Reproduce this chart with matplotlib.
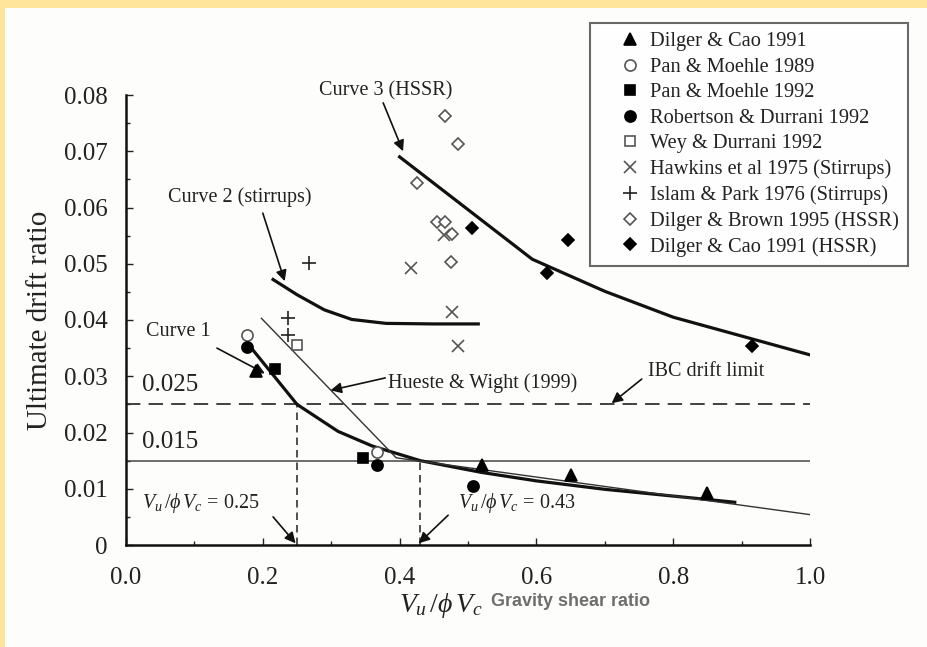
import matplotlib.pyplot as plt
from matplotlib.patches import Rectangle
from matplotlib.ticker import MultipleLocator, FuncFormatter

plt.rcParams['font.family'] = ['Liberation Serif', 'DejaVu Serif']
plt.rcParams['mathtext.fontset'] = 'custom'
plt.rcParams['mathtext.rm'] = 'Liberation Serif'
plt.rcParams['mathtext.it'] = 'Liberation Serif:italic'

# test results: gravity shear ratio vs ultimate drift ratio
dilger_cao_x = [0.19, 0.52, 0.65, 0.85]
dilger_cao_y = [0.031, 0.0143, 0.0124, 0.0092]
pan89_x = [0.177, 0.367]
pan89_y = [0.0373, 0.0165]
pan92_x = [0.218, 0.347]
pan92_y = [0.0313, 0.0155]
robertson_x = [0.177, 0.367, 0.507]
robertson_y = [0.0352, 0.0142, 0.0105]
wey_x = [0.25]
wey_y = [0.0356]
hawkins_x = [0.417, 0.465, 0.476, 0.485]
hawkins_y = [0.0492, 0.0551, 0.0414, 0.0354]
islam_x = [0.237, 0.237, 0.268]
islam_y = [0.0403, 0.0373, 0.0501]
brown_x = [0.466, 0.486, 0.426, 0.455, 0.466, 0.476, 0.475]
brown_y = [0.0763, 0.0713, 0.0643, 0.0574, 0.0574, 0.0553, 0.0503]
cao_hssr_x = [0.506, 0.646, 0.615, 0.915]
cao_hssr_y = [0.0563, 0.0542, 0.0483, 0.0354]

# design curves
curve1_x = [0.18, 0.21, 0.25, 0.31, 0.36, 0.43, 0.52, 0.60, 0.70, 0.80, 0.89]
curve1_y = [0.0355, 0.031, 0.025, 0.0202, 0.0176, 0.015, 0.0129, 0.0114, 0.0099, 0.0087, 0.0076]
curve2_x = [0.215, 0.25, 0.29, 0.33, 0.38, 0.45, 0.515]
curve2_y = [0.0472, 0.0445, 0.0418, 0.0401, 0.0394, 0.0393, 0.0393]
curve3_x = [0.40, 0.594, 0.70, 0.80, 1.0]
curve3_y = [0.069, 0.0508, 0.0451, 0.0405, 0.0338]
hueste_x = [0.198, 0.395, 1.0]
hueste_y = [0.0403, 0.0155, 0.0054]

ibc_limit = 0.025
low_limit = 0.015
ratio_a = 0.25
ratio_b = 0.43

fig = plt.figure(figsize=(9.28, 6.47), dpi=100, facecolor='#ffe49c')
fig.patches.append(Rectangle((5 / 928, 0), 1, 1 - 8 / 647, transform=fig.transFigure,
                             facecolor='#fdfefb', edgecolor='none', zorder=-10))
ax = fig.add_axes([126 / 928, 1 - 545 / 647, 684 / 928, 450 / 647])
ax.set_facecolor('none')

grey = '#555555'
series = [
    ('Dilger & Cao 1991', dilger_cao_x, dilger_cao_y, '^', 'k', 'k', 8),
    ('Pan & Moehle 1989', pan89_x, pan89_y, 'o', 'white', grey, 8),
    ('Pan & Moehle 1992', pan92_x, pan92_y, 's', 'k', 'k', 7.5),
    ('Robertson & Durrani 1992', robertson_x, robertson_y, 'o', 'k', 'k', 8),
    ('Wey & Durrani 1992', wey_x, wey_y, 's', 'white', grey, 7.5),
    ('Hawkins et al 1975 (Stirrups)', hawkins_x, hawkins_y, 'x', grey, grey, 9),
    ('Islam & Park 1976 (Stirrups)', islam_x, islam_y, '+', 'k', '#222222', 10),
    ('Dilger & Brown 1995 (HSSR)', brown_x, brown_y, 'D', 'white', grey, 6.5),
    ('Dilger & Cao 1991 (HSSR)', cao_hssr_x, cao_hssr_y, 'D', 'k', 'k', 6.5),
]

ax.plot(curve1_x, curve1_y, color='#111111', lw=2.3, zorder=3)
ax.plot(curve2_x, curve2_y, color='#111111', lw=2.3, zorder=3)
ax.plot(curve3_x, curve3_y, color='#111111', lw=2.3, zorder=3)
ax.plot(hueste_x, hueste_y, color='#333333', lw=1.0, zorder=3)
ax.plot([0, 1], [ibc_limit, ibc_limit], color='#333333', lw=1.3, linestyle=(0, (8, 4.5)))
ax.plot([0, 1], [low_limit, low_limit], color='#444444', lw=1.1)
ax.plot([ratio_a, ratio_a], [0, ibc_limit], color='#333333', lw=1.2, linestyle=(0, (4.5, 3)))
ax.plot([ratio_b, ratio_b], [0, low_limit], color='#333333', lw=1.2, linestyle=(0, (4.5, 3)))

handles = []
for label, xs, ys, m, fc, ec, ms in series:
    h, = ax.plot(xs, ys, linestyle='none', marker=m, markersize=ms, markerfacecolor=fc,
                 markeredgecolor=ec, markeredgewidth=1.2, label=label, zorder=4)
    handles.append(h)

arrow = dict(arrowstyle='-|>', color='#111111', lw=1.2, mutation_scale=16, shrinkA=0, shrinkB=0)
fs = 14.5
ax.text(0.379, 0.0808, 'Curve 3 (HSSR)', fontsize=fs, ha='center', va='center', color='#222222')
ax.annotate('', xy=(0.405, 0.0700), xytext=(0.376, 0.0786), arrowprops=arrow)
ax.text(0.167, 0.0619, 'Curve 2 (stirrups)', fontsize=fs, ha='center', va='center', color='#222222')
ax.annotate('', xy=(0.232, 0.0469), xytext=(0.200, 0.0590), arrowprops=arrow)
ax.text(0.076, 0.0380, 'Curve 1', fontsize=fs, ha='center', va='center', color='#222222')
ax.annotate('', xy=(0.203, 0.0305), xytext=(0.133, 0.0350), arrowprops=arrow)
ax.text(0.383, 0.0288, 'Hueste & Wight (1999)', fontsize=fs, ha='left', va='center', color='#222222')
ax.annotate('', xy=(0.299, 0.0275), xytext=(0.379, 0.0297), arrowprops=arrow)
ax.text(0.848, 0.0308, 'IBC drift limit', fontsize=fs, ha='center', va='center', color='#222222')
ax.annotate('', xy=(0.710, 0.0252), xytext=(0.754, 0.0295), arrowprops=arrow)
ax.text(0.023, 0.0284, '0.025', fontsize=18, ha='left', va='center', color='#222222')
ax.text(0.023, 0.0183, '0.015', fontsize=18, ha='left', va='center', color='#222222')
ax.text(0.023, 0.0075, r'$V_u\,/\phi\,V_c$ = 0.25', fontsize=fs, ha='left', va='center', color='#222222')
ax.annotate('', xy=(0.248, 0.0003), xytext=(0.215, 0.0050), arrowprops=arrow)
ax.text(0.486, 0.0075, r'$V_u\,/\phi\,V_c$ = 0.43', fontsize=fs, ha='left', va='center', color='#222222')
ax.annotate('', xy=(0.428, 0.0003), xytext=(0.471, 0.0053), arrowprops=arrow)

ax.set_xlim(0, 1.0)
ax.set_ylim(0, 0.08)
ax.xaxis.set_major_locator(MultipleLocator(0.2))
ax.xaxis.set_minor_locator(MultipleLocator(0.1))
ax.yaxis.set_major_locator(MultipleLocator(0.01))
ax.yaxis.set_minor_locator(MultipleLocator(0.005))
ax.xaxis.set_major_formatter(FuncFormatter(lambda v, p: '%.1f' % v))
ax.yaxis.set_major_formatter(FuncFormatter(lambda v, p: '0' if abs(v) < 1e-9 else '%.2f' % v))
ax.tick_params(which='both', direction='in', labelsize=18, colors='#222222', width=1)
ax.tick_params(which='major', length=5)
ax.tick_params(which='minor', length=3)
ax.tick_params(axis='x', which='major', pad=16)
ax.tick_params(axis='y', which='major', pad=13)
for s in ['top', 'right']:
    ax.spines[s].set_visible(False)
for s in ['left', 'bottom']:
    ax.spines[s].set_linewidth(1.8)
    ax.spines[s].set_color('#111111')

ax.set_ylabel('Ultimate drift ratio', fontsize=21, color='#222222', labelpad=8)
fig.text(441 / 928, 1 - 606 / 647, r'$V_u\,/\phi\,V_c$', fontsize=20, ha='center', va='center',
         color='#222222')
fig.text(491 / 928, 1 - 602 / 647, 'Gravity shear ratio', fontsize=13, fontweight='bold',
         family=['Liberation Sans', 'DejaVu Sans'], ha='left', va='center', color='#6e6e6e')

leg = fig.legend(handles=handles, loc='upper left', bbox_to_anchor=(590 / 928, 1 - 23 / 647),
                 fontsize=14.7, frameon=True, fancybox=False, borderaxespad=0, borderpad=0.45,
                 handlelength=3.0, handletextpad=-0.5, labelspacing=0.3)
leg.get_frame().set_edgecolor('#444444')
leg.get_frame().set_linewidth(1.5)
for t in leg.get_texts():
    t.set_color('#222222')

fig.savefig('out.png', dpi=100, facecolor=fig.get_facecolor())
